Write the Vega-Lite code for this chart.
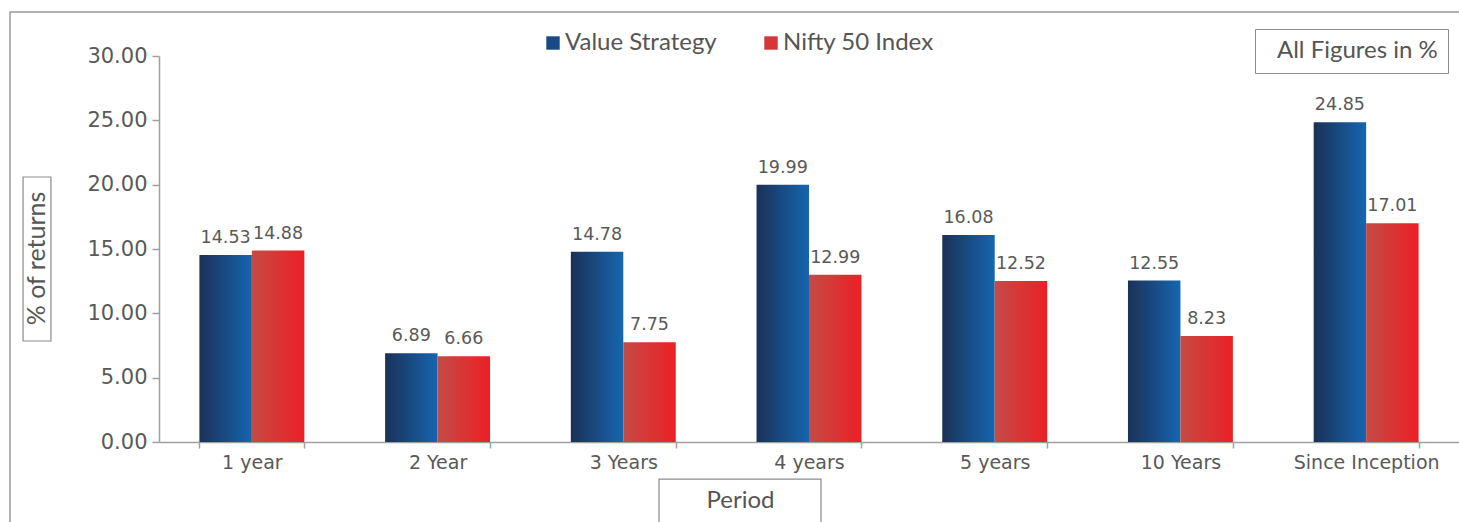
{
  "$schema": "https://vega.github.io/schema/vega-lite/v6.json",
  "width": 1300,
  "height": 386,
  "autosize": {"type": "none"},
  "padding": {"left": 159, "top": 56, "right": 0, "bottom": 80},
  "background": "#ffffff",
  "config": {"view": {"stroke": null}, "font": "DejaVu Sans"},
  "datasets": {
    "returns": [
      {"period": "1 year", "series": "Value Strategy", "value": 14.53},
      {"period": "1 year", "series": "Nifty 50 Index", "value": 14.88},
      {"period": "2 Year", "series": "Value Strategy", "value": 6.89},
      {"period": "2 Year", "series": "Nifty 50 Index", "value": 6.66},
      {"period": "3 Years", "series": "Value Strategy", "value": 14.78},
      {"period": "3 Years", "series": "Nifty 50 Index", "value": 7.75},
      {"period": "4 years", "series": "Value Strategy", "value": 19.99},
      {"period": "4 years", "series": "Nifty 50 Index", "value": 12.99},
      {"period": "5 years", "series": "Value Strategy", "value": 16.08},
      {"period": "5 years", "series": "Nifty 50 Index", "value": 12.52},
      {"period": "10 Years", "series": "Value Strategy", "value": 12.55},
      {"period": "10 Years", "series": "Nifty 50 Index", "value": 8.23},
      {"period": "Since Inception", "series": "Value Strategy", "value": 24.85},
      {"period": "Since Inception", "series": "Nifty 50 Index", "value": 17.01}
    ]
  },
  "resolve": {"scale": {"shape": "independent"}, "legend": {"shape": "independent"}},
  "layer": [
    {
      "data": {"values": [{"box": "frame"}]},
      "mark": {"type": "point", "size": 0, "color": "#999999", "strokeWidth": 1},
      "encoding": {
        "shape": {
          "field": "box", "type": "nominal", "scale": {"range": ["M-1,-0.362H1V0.362H-1Z"]},
          "legend": {
            "title": null, "orient": "none", "legendX": -150, "legendY": -511, "padding": 0, "zindex": -1,
            "symbolSize": 2134521, "symbolStrokeWidth": 1.5, "symbolStrokeColor": "#999999", "symbolFillColor": "#f1f2f4", "symbolOpacity": 1,
            "labelExpr": "''", "labelOffset": 0
          }
        }
      }
    },
    {
      "data": {"name": "returns"},
      "mark": {"type": "bar"},
      "encoding": {
        "x": {
          "field": "period", "type": "nominal",
          "sort": ["1 year", "2 Year", "3 Years", "4 years", "5 years", "10 Years", "Since Inception"],
          "scale": {"paddingInner": 0.435, "paddingOuter": 0.2175},
          "axis": {
            "title": "Period", "titleFont": "Lato", "titleFontSize": 24, "titleFontWeight": "normal", "titleColor": "#555555",
            "titleX": 581, "titleY": 58, "titleAlign": "center", "titleBaseline": "middle", "titleAnchor": "start",
            "labelAngle": 0, "tickBand": "extent",
            "domainColor": "#a0a0a0", "domainWidth": 1.5, "tickColor": "#a0a0a0", "tickWidth": 1.5, "tickSize": 6,
            "labelFont": "DejaVu Sans", "labelFontSize": 19, "labelColor": "#595959", "labelPadding": 5
          }
        },
        "xOffset": {"field": "series", "type": "nominal", "sort": ["Value Strategy", "Nifty 50 Index"], "scale": {"paddingInner": 0, "paddingOuter": 0}},
        "y": {
          "field": "value", "type": "quantitative",
          "scale": {"domain": [0, 30], "nice": false},
          "axis": {
            "title": "% of returns", "titleFont": "Lato", "titleFontSize": 25, "titleFontWeight": "normal", "titleColor": "#555555",
            "titleX": -123, "titleY": 202, "titleAngle": 270, "titleAlign": "center", "titleBaseline": "middle", "titleAnchor": "start",
            "values": [0, 5, 10, 15, 20, 25, 30], "format": ".2f", "grid": false,
            "domainColor": "#a0a0a0", "domainWidth": 1.5, "tickColor": "#a0a0a0", "tickWidth": 1.5, "tickSize": 7,
            "labelFont": "DejaVu Sans", "labelFontSize": 21, "labelColor": "#595959", "labelPadding": 5
          }
        },
        "color": {
          "condition": {
            "test": "datum.series === 'Value Strategy'",
            "value": {"gradient": "linear", "x1": 0, "y1": 0, "x2": 1, "y2": 0, "stops": [{"offset": 0, "color": "#1b3157"}, {"offset": 1, "color": "#1566b0"}]}
          },
          "value": {"gradient": "linear", "x1": 0, "y1": 0, "x2": 1, "y2": 0, "stops": [{"offset": 0, "color": "#c44b45"}, {"offset": 1, "color": "#ec2026"}]}
        }
      }
    },
    {
      "data": {"name": "returns"},
      "mark": {"type": "text", "baseline": "bottom", "dy": -8, "fontSize": 17.5, "font": "DejaVu Sans", "color": "#595959"},
      "encoding": {
        "x": {"field": "period", "type": "nominal", "sort": ["1 year", "2 Year", "3 Years", "4 years", "5 years", "10 Years", "Since Inception"]},
        "xOffset": {"field": "series", "type": "nominal", "sort": ["Value Strategy", "Nifty 50 Index"]},
        "y": {"field": "value", "type": "quantitative"},
        "text": {"field": "value", "type": "quantitative", "format": ".2f"}
      }
    },
    {
      "data": {"name": "returns"},
      "mark": {"type": "square", "size": 0, "filled": true},
      "encoding": {
        "color": {
          "field": "series", "type": "nominal",
          "scale": {"domain": ["Value Strategy", "Nifty 50 Index"], "range": ["#1a4a86", "#d8353a"]},
          "legend": {
            "title": null, "orient": "none", "legendX": 382, "legendY": -25, "direction": "horizontal",
            "symbolType": "square", "symbolSize": 180, "symbolStrokeWidth": 0, "symbolOpacity": 1,
            "labelFont": "Lato", "labelFontSize": 24, "labelColor": "#555555", "labelOffset": 0, "columnPadding": 42
          }
        }
      }
    },
    {
      "data": {"values": [{"note": "All Figures in %"}]},
      "mark": {"type": "point", "opacity": 0},
      "encoding": {
        "shape": {
          "field": "note", "type": "nominal",
          "legend": {
            "title": null, "orient": "none", "legendX": 1096, "legendY": -27,
            "symbolSize": 0, "symbolOpacity": 0, "symbolStrokeWidth": 0, "labelOffset": -12, "labelLimit": 400,
            "labelFont": "Lato", "labelFontSize": 24, "labelColor": "#555555",
            "strokeColor": "#8c8c8c", "padding": 10
          }
        }
      }
    },
    {
      "data": {"values": [{"box": "ybox"}]},
      "mark": {"type": "point", "size": 0, "color": "#8c8c8c", "strokeWidth": 1},
      "encoding": {
        "shape": {
          "field": "box", "type": "nominal", "scale": {"range": ["M-0.17,-1H0.17V1H-0.17Z"]},
          "legend": {
            "title": null, "orient": "none", "legendX": -205, "legendY": 120, "padding": 0,
            "symbolSize": 26896, "symbolStrokeWidth": 1.2, "symbolStrokeColor": "#8c8c8c", "symbolFillColor": "transparent", "symbolOpacity": 1,
            "labelExpr": "''", "labelOffset": 0
          }
        }
      }
    },
    {
      "data": {"values": [{"box": "xbox"}]},
      "mark": {"type": "point", "size": 0, "color": "#8c8c8c", "strokeWidth": 1},
      "encoding": {
        "shape": {
          "field": "box", "type": "nominal", "scale": {"range": ["M-1,-0.37H1V0.37H-1Z"]},
          "legend": {
            "title": null, "orient": "none", "legendX": 499, "legendY": 371, "padding": 0,
            "symbolSize": 26244, "symbolStrokeWidth": 1.2, "symbolStrokeColor": "#8c8c8c", "symbolFillColor": "transparent", "symbolOpacity": 1,
            "labelExpr": "''", "labelOffset": 0
          }
        }
      }
    }
  ]
}
